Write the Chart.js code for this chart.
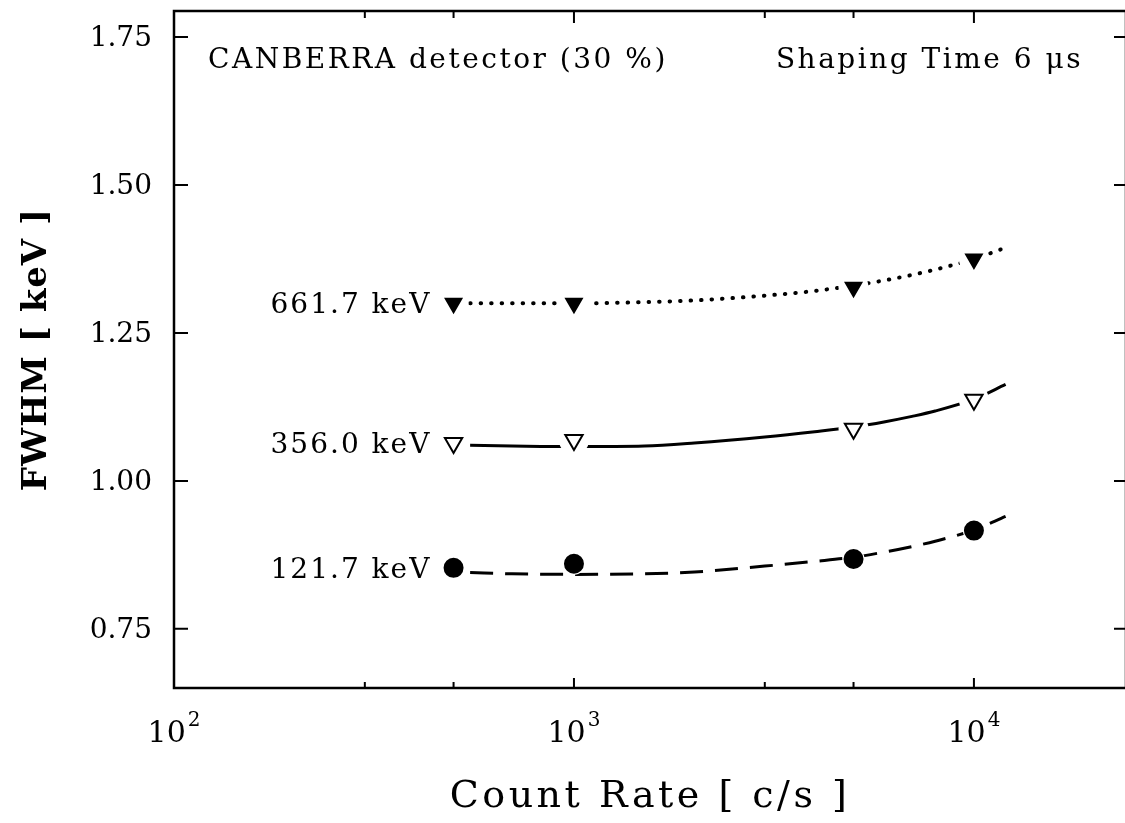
<!DOCTYPE html>
<html>
<head>
<meta charset="utf-8">
<title>FWHM vs Count Rate</title>
<script src="https://cdn.jsdelivr.net/npm/chart.js@4.4.1/dist/chart.umd.min.js"></script>
<style>
  html, body { margin: 0; padding: 0; background: #fff; overflow: hidden; }
  #wrap { width: 1128px; height: 823px; }
</style>
</head>
<body>
<div id="wrap"><canvas id="fwhmChart" width="1128" height="823"></canvas></div>
<script>
// measured points (c/s, keV)
const countRates = [500, 1000, 5000, 10000];
const fwhm661 = [1.300, 1.300, 1.327, 1.375];
const fwhm356 = [1.064, 1.069, 1.088, 1.137];
const fwhm121 = [0.853, 0.860, 0.868, 0.916];

// fitted curves
const fitRates = [550, 700, 1000, 1500, 2000, 3000, 4000, 5000, 6000, 7000, 8000, 10000, 12000];
const fit661 = [1.300, 1.300, 1.300, 1.302, 1.305, 1.313, 1.321, 1.330, 1.339, 1.348, 1.357, 1.375, 1.394];
const fit356 = [1.060, 1.059, 1.058, 1.059, 1.064, 1.074, 1.083, 1.091, 1.100, 1.109, 1.118, 1.138, 1.163];
const fit121 = [0.845, 0.843, 0.842, 0.843, 0.846, 0.856, 0.864, 0.871, 0.880, 0.889, 0.898, 0.917, 0.940];

const lineLabels = ['661.7 keV', '356.0 keV', '121.7 keV'];
const xMajorTicks = [100, 1000, 10000];
const xMinorTicks = [300, 500, 3000, 5000];
const yTicks = [0.75, 1.00, 1.25, 1.50, 1.75];

const SERIF = '"DejaVu Serif", "Liberation Serif", serif';

function pts(xs, ys) {
  return xs.map((x, i) => ({ x, y: ys[i] }));
}

function fitSet(data, dash, cap, width) {
  return {
    data, order: 3, borderColor: '#000', borderWidth: width, borderDash: dash,
    borderCapStyle: cap, pointRadius: 0, showLine: true,
    cubicInterpolationMode: 'monotone', fill: false
  };
}

// white disc under each marker so the curve breaks around it
function haloSet(data, radius) {
  return {
    data, order: 2, showLine: false, pointStyle: 'circle', pointRadius: radius,
    pointBackgroundColor: '#fff', pointBorderWidth: 0, borderColor: '#fff'
  };
}

function markSet(data, bg, style, radius) {
  return {
    data, order: 1, showLine: false, pointStyle: style,
    pointRotation: style === 'triangle' ? 180 : 0,
    pointRadius: radius, pointBackgroundColor: bg, pointBorderColor: '#000',
    pointBorderWidth: 2, borderColor: '#000'
  };
}

function txt(ctx, s, x, y, font, spacing, align) {
  ctx.save();
  ctx.font = font;
  ctx.letterSpacing = (spacing || 0) + 'px';
  ctx.fillStyle = '#000';
  ctx.textBaseline = 'alphabetic';
  ctx.textAlign = align || 'left';
  ctx.fillText(s, x, y);
  ctx.restore();
}

// no automatic label padding, the plot box is fixed
function noPad(s) {
  s.paddingTop = 0; s.paddingBottom = 0; s.paddingLeft = 0; s.paddingRight = 0;
}

// frame, inward ticks, axis labels and annotations
const framePlugin = {
  id: 'frame',
  afterDraw(chart) {
    const { ctx, chartArea: a, scales } = chart;
    const xs = scales.x, ys = scales.y;
    ctx.save();
    ctx.strokeStyle = '#000';
    ctx.lineWidth = 2.5;
    ctx.strokeRect(a.left, a.top, a.right - a.left, a.bottom - a.top);

    ctx.lineWidth = 2;
    ctx.beginPath();
    xMajorTicks.forEach(v => {
      const px = xs.getPixelForValue(v);
      ctx.moveTo(px, a.bottom); ctx.lineTo(px, a.bottom - 10);
      ctx.moveTo(px, a.top); ctx.lineTo(px, a.top + 12);
    });
    xMinorTicks.forEach(v => {
      const px = xs.getPixelForValue(v);
      ctx.moveTo(px, a.bottom); ctx.lineTo(px, a.bottom - 6);
      ctx.moveTo(px, a.top); ctx.lineTo(px, a.top + 7);
    });
    yTicks.forEach(v => {
      const py = ys.getPixelForValue(v);
      ctx.moveTo(a.left, py); ctx.lineTo(a.left + 14, py);
      ctx.moveTo(a.right, py); ctx.lineTo(a.right - 12, py);
    });
    ctx.stroke();
    ctx.restore();

    // y tick labels
    yTicks.forEach(v => {
      txt(ctx, v.toFixed(2), a.left - 22, ys.getPixelForValue(v) + 9, '28px ' + SERIF, 0, 'right');
    });

    // x tick labels 10^n
    xMajorTicks.forEach(v => {
      const px = xs.getPixelForValue(v);
      const exp = String(Math.round(Math.log10(v)));
      ctx.save();
      ctx.font = '30px ' + SERIF;
      const wb = ctx.measureText('10').width;
      ctx.font = '20px ' + SERIF;
      const we = ctx.measureText(exp).width;
      ctx.restore();
      const x0 = px - (wb + we + 2) / 2;
      txt(ctx, '10', x0, a.bottom + 54, '30px ' + SERIF, 0, 'left');
      txt(ctx, exp, x0 + wb + 2, a.bottom + 38, '20px ' + SERIF, 0, 'left');
    });

    // axis titles
    txt(ctx, 'Count Rate [ c/s ]', (a.left + a.right) / 2, 807, '38px ' + SERIF, 3.5, 'center');
    ctx.save();
    ctx.translate(46, (a.top + a.bottom) / 2);
    ctx.rotate(-Math.PI / 2);
    txt(ctx, 'FWHM [ keV ]', 0, 0, 'bold 34px ' + SERIF, 1, 'center');
    ctx.restore();

    // annotations
    txt(ctx, 'CANBERRA detector (30 %)', 208, 68, '28px ' + SERIF, 2.5, 'left');
    txt(ctx, 'Shaping Time 6 \u03bcs', 1083, 68, '28px ' + SERIF, 2.5, 'right');

    // series labels, right-aligned left of the first marker
    const firstVals = [fwhm661[0], fwhm356[0], fwhm121[0]];
    firstVals.forEach((v, i) => {
      const py = ys.getPixelForValue(v) + 10;
      txt(ctx, lineLabels[i], xs.getPixelForValue(440), py, '28px ' + SERIF, 2, 'right');
    });
  }
};

new Chart(document.getElementById('fwhmChart'), {
  type: 'line',
  data: {
    datasets: [
      fitSet(pts(fitRates, fit661), [0.5, 10], 'round', 4),
      fitSet(pts(fitRates, fit356), [], 'butt', 3),
      fitSet(pts(fitRates, fit121), [23, 12], 'butt', 3),
      haloSet(pts(countRates, fwhm661), 15),
      haloSet(pts(countRates, fwhm356), 15),
      haloSet(pts(countRates, fwhm121), 11),
      markSet(pts(countRates, fwhm661), '#000', 'triangle', 9),
      markSet(pts(countRates, fwhm356), '#fff', 'triangle', 10),
      markSet(pts(countRates, fwhm121), '#000', 'circle', 9)
    ]
  },
  options: {
    responsive: false,
    animation: false,
    events: [],
    // point radius must not push the plot box in
    layout: { autoPadding: false, padding: { top: 11, right: 2, left: 0, bottom: 0 } },
    plugins: { legend: { display: false }, tooltip: { enabled: false } },
    scales: {
      x: {
        type: 'logarithmic', min: 100, max: 24000,
        grid: { display: false, drawTicks: false }, border: { display: false },
        ticks: { display: false },
        afterFit(s) { s.height = 135; noPad(s); }
      },
      y: {
        min: 0.65, max: 1.794,
        grid: { display: false, drawTicks: false }, border: { display: false },
        ticks: { display: false },
        afterFit(s) { s.width = 174; noPad(s); }
      }
    }
  },
  plugins: [framePlugin]
});
</script>
</body>
</html>
